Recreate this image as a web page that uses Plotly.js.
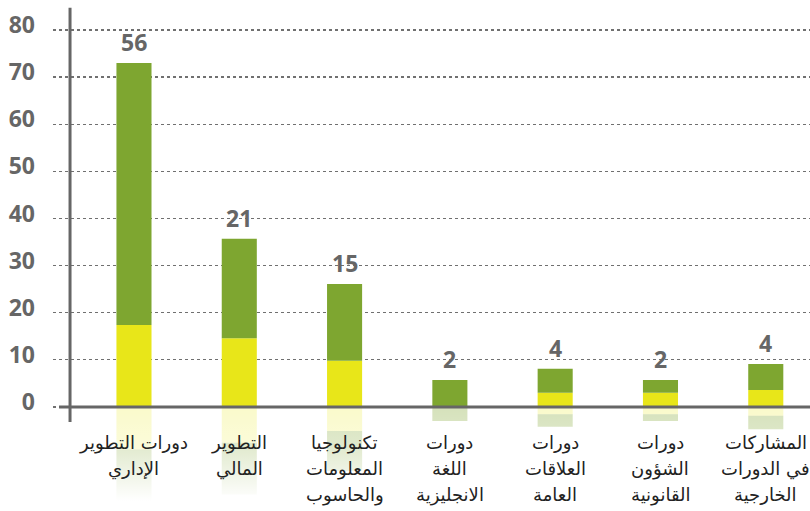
<!DOCTYPE html>
<html>
<head>
<meta charset="utf-8">
<script src="https://cdn.plot.ly/plotly-3.0.1.min.js"></script>
<style>html,body{margin:0;padding:0;background:#fff;}#chart{width:810px;height:511px;}</style>
</head>
<body>
<div id="chart"></div>
<script>
// ---- data ----
const categories = [
  'دورات التطوير<br>الإداري',
  'التطوير<br>المالي',
  'تكنولوجيا<br>المعلومات<br>والحاسوب',
  'دورات<br>اللغة<br>الانجليزية',
  'دورات<br>العلاقات<br>العامة',
  'دورات<br>الشؤون<br>القانونية',
  'المشاركات<br>في الدورات<br>الخارجية'
];
const yellowVals = [17.4, 14.6, 9.8, 0, 3.0, 3.0, 3.6];
const greenVals  = [55.6, 21.1, 16.3, 5.7, 5.1, 2.7, 5.5];
const valueLabels = ['56', '21', '15', '2', '4', '2', '4'];
const yTickVals = [0, 10, 20, 30, 40, 50, 60, 70, 80];

// ---- styling ----
const GREEN = '#7ea630';
const YELLOW = '#e8e619';
const AXIS = '#666666';
const reflectRatio = 0.52;
const idx = categories.map((c, i) => i);

const traces = [
  {type: 'bar', x: idx, y: yellowVals, marker: {color: YELLOW}, hoverinfo: 'skip'},
  {type: 'bar', x: idx, y: greenVals, marker: {color: GREEN}, hoverinfo: 'skip'},
  {type: 'bar', x: idx, y: yellowVals.map(v => -v * reflectRatio), marker: {color: 'rgba(232,230,25,0.22)'}, hoverinfo: 'skip'},
  {type: 'bar', x: idx, y: greenVals.map(v => -v * reflectRatio), marker: {color: 'rgba(126,166,48,0.32)'}, hoverinfo: 'skip'}
];

const annotations = [];
idx.forEach(i => {
  annotations.push({
    x: i, y: yellowVals[i] + greenVals[i], xref: 'x', yref: 'y',
    text: valueLabels[i], showarrow: false, yanchor: 'bottom', yshift: 3,
    font: {family: 'Open Sans, DejaVu Sans, sans-serif', size: 23, color: AXIS, weight: 'bold'}
  });
  categories[i].split('<br>').forEach((line, k) => {
    annotations.push({
      x: i, y: -7.64, xref: 'x', yref: 'y', yshift: -26 * k,
      text: line, showarrow: false, yanchor: 'middle', align: 'center',
      font: {family: 'DejaVu Sans, sans-serif', size: 18, color: '#222222'}
    });
  });
});

const grad = "data:image/svg+xml;utf8," + encodeURIComponent(
  "<svg xmlns='http://www.w3.org/2000/svg' width='100' height='100' viewBox='0 0 100 100' preserveAspectRatio='none'>" +
  "<defs><linearGradient id='g' x1='0' y1='0' x2='0' y2='1'>" +
  "<stop offset='0' stop-color='#ffffff' stop-opacity='0'/>" +
  "<stop offset='0.35' stop-color='#ffffff' stop-opacity='0.25'/>" +
  "<stop offset='0.9' stop-color='#ffffff' stop-opacity='1'/>" +
  "</linearGradient></defs><rect width='100' height='100' fill='url(#g)'/></svg>");

const layout = {
  width: 810, height: 511,
  margin: {l: 53, r: 0, t: 0, b: 0},
  paper_bgcolor: '#ffffff', plot_bgcolor: '#ffffff',
  showlegend: false,
  barmode: 'relative',
  bargap: 0.667,
  xaxis: {
    range: [-0.769, 6.42], showgrid: false, zeroline: false,
    showticklabels: false, showline: false, fixedrange: true
  },
  yaxis: {
    range: [-22.08, 86.37], tickvals: yTickVals, ticktext: yTickVals.map(String),
    showgrid: true, gridcolor: '#707070', gridwidth: 1.3, griddash: 'dot',
    zeroline: false, showline: false, ticks: '', ticklabelstandoff: 17, ticklabelshift: -5,
    tickfont: {family: 'Open Sans, DejaVu Sans, sans-serif', size: 23, color: AXIS, weight: 'bold'},
    fixedrange: true
  },
  images: [{
    source: grad, xref: 'paper', yref: 'y', x: 0, y: -0.5, sizex: 1, sizey: 21.6,
    xanchor: 'left', yanchor: 'top', sizing: 'stretch', layer: 'above'
  }],
  shapes: [
    {type: 'line', xref: 'paper', yref: 'y', x0: 0.0225, x1: 0.0225, y0: -3.2, y1: 84.7,
     line: {color: AXIS, width: 3}},
    {type: 'line', xref: 'paper', yref: 'y', x0: 0.008, x1: 1, y0: 0, y1: 0,
     line: {color: AXIS, width: 3}}
  ],
  annotations: annotations
};

Plotly.newPlot('chart', traces, layout, {displayModeBar: false, staticPlot: true});
</script>
</body>
</html>
